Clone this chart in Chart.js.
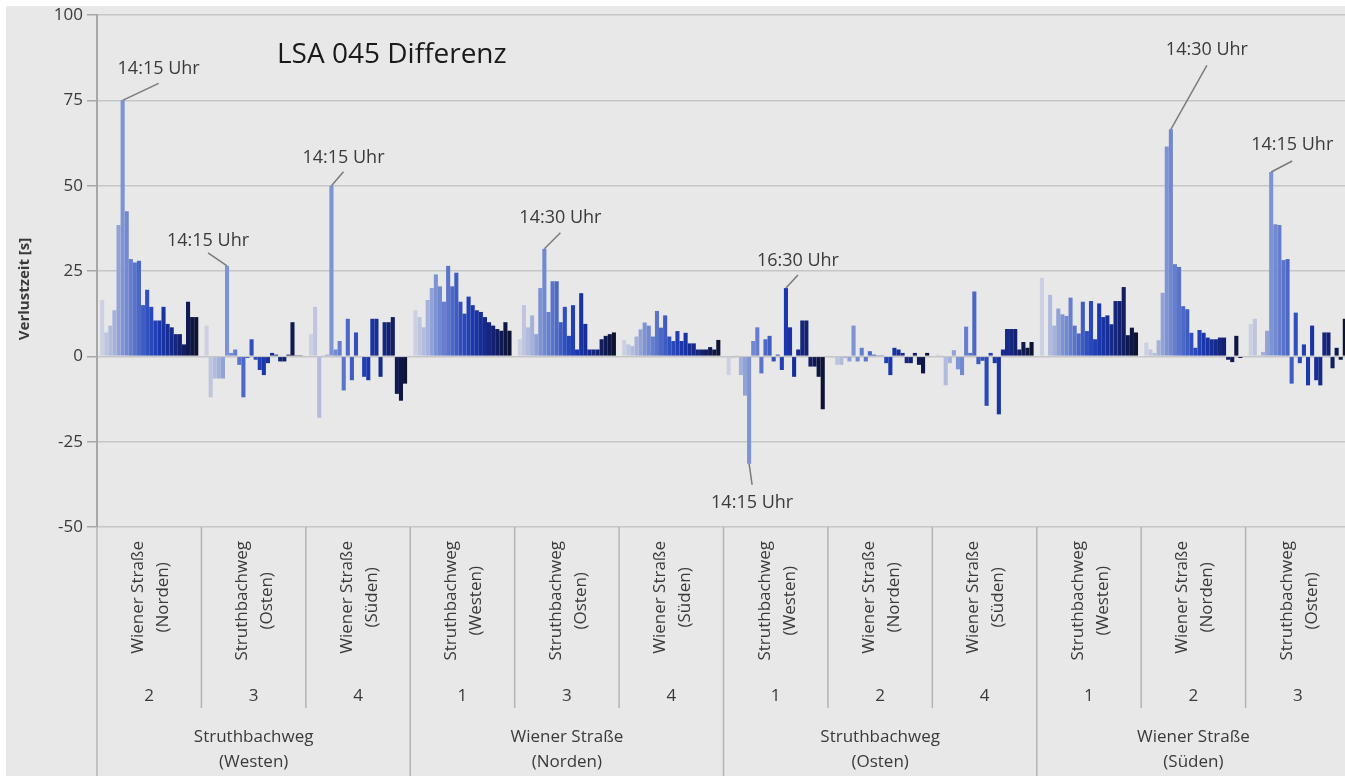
<!DOCTYPE html>
<html>
<head>
<meta charset="utf-8">
<script src="https://cdn.jsdelivr.net/npm/chart.js@4.4.1/dist/chart.umd.min.js"></script>
<style>
  html, body { margin: 0; padding: 0; background: #fff; overflow: hidden; }
  #wrap { width: 1352px; height: 776px; }
</style>
</head>
<body>
<div id="wrap"><canvas id="chart" width="1352" height="776"></canvas></div>
<script>
// one series per 15 min slot
const timeSlots = ['13:00','13:15','13:30','13:45','14:00','14:15','14:30','14:45',
                   '15:00','15:15','15:30','15:45','16:00','16:15','16:30','16:45',
                   '17:00','17:15','17:30','17:45','18:00','18:15','18:30','18:45'];

// approaches (level 1), arm numbers (level 2), intersections (level 3)
const approachLabels = [
    ['Wiener Straße', '(Norden)'], ['Struthbachweg', '(Osten)'], ['Wiener Straße', '(Süden)'],
    ['Struthbachweg', '(Westen)'], ['Struthbachweg', '(Osten)'], ['Wiener Straße', '(Süden)'],
    ['Struthbachweg', '(Westen)'], ['Wiener Straße', '(Norden)'], ['Wiener Straße', '(Süden)'],
    ['Struthbachweg', '(Westen)'], ['Wiener Straße', '(Norden)'], ['Struthbachweg', '(Osten)']
];
const armNumbers = ['2', '3', '4', '1', '3', '4', '1', '2', '4', '1', '2', '3'];
const intersections = [
    ['Struthbachweg', '(Westen)'], ['Wiener Straße', '(Norden)'],
    ['Struthbachweg', '(Osten)'], ['Wiener Straße', '(Süden)']
];

// Verlustzeit-Differenz [s] per approach, 13:00 .. 18:45
const westen2 = [16.5, 7, 9, 13.5, 38.5, 75, 42.5, 28.5, 27.5, 28, 15, 19.5, 14.5, 10.5, 10.5, 14.5, 9.5, 8.5, 6.5, 6.5, 3.5, 16, 11.5, 11.5];
const westen3 = [9, -12, -6.5, -6.5, -6.5, 26.5, 1, 2, -2.5, -12, -0.5, 5, -1, -4, -5.5, -2, 1, 0.5, -1.5, -1.5, 0.5, 10, 0.3, 0.3];
const westen4 = [6.5, 14.5, -18, 0.3, 0.5, 50, 2, 4.5, -10, 11, -7, 7, 0, -6, -7, 11, 11, -6, 10, 10, 11.5, -11, -13, -8];
const norden1 = [13.5, 11.5, 8.5, 16.5, 20, 24, 20.5, 16, 26.5, 20.5, 24.5, 16, 12.5, 17.5, 15, 13.5, 13, 11.5, 10, 9, 8, 7.5, 10, 7.5];
const norden3 = [5, 15, 8.5, 12, 6.5, 20, 31.5, 13, 22, 22, 10, 14.5, 6, 15, 2, 18.5, 9.5, 2, 2, 2, 5, 6, 6.5, 7];
const norden4 = [4.8, 3.5, 3, 5.8, 7.9, 9.9, 9, 5.8, 13.3, 8.4, 12, 5.8, 4.5, 7.4, 4.5, 6.9, 3.8, 3.8, 2, 2, 2, 2.7, 2, 4.8];
const osten1 = [-5.5, -0.5, 0.3, -5.5, -11.5, -31.5, 4.5, 8.5, -5, 5, 6, -1.5, 0.5, -4, 20, 8.5, -6, 2, 10.5, 10.5, -3, -3, -6, -15.5];
const osten2 = [-0.5, -2.5, -2.5, -0.5, -1.5, 9, -1.5, 2.5, -1.5, 1.5, 0.5, 0.3, 0.3, -2, -5.5, 2.5, 2, 1, -2, -2, 1, -2.5, -5, 1];
const osten4 = [0.5, 0.3, -8.5, -2, 1.8, -3.8, -5.5, 8.7, 1, 19, -2.3, -1.3, -14.5, 1, -2, -17, 2, 8, 8, 8, 2, 4.2, 2.5, 4.2];
const sueden1 = [23, -0.3, 18, 9, 14, 12.3, 11.8, 17.2, 9, 6.7, 16, 7.4, 16.2, 5, 15.5, 11.5, 12, 9.4, 16.2, 16.2, 20.3, 6.2, 8.4, 7];
const sueden2 = [4, 2, 1, 4.7, 18.6, 61.5, 66.5, 27, 26.2, 14.7, 13.8, 6.9, 2.5, 7.7, 6.9, 5.5, 5, 5, 5.5, 5.5, -1, -1.7, 6, -0.5];
const sueden3 = [9.5, 11, 0.3, 1.3, 7.5, 54, 38.7, 38.5, 28.2, 28.5, -8, 12.8, -2, 3.5, -8.5, 9, -7, -8.5, 7, 7, -3.5, 2.5, -1, 11];

const approachValues = [westen2, westen3, westen4, norden1, norden3, norden4,
                        osten1, osten2, osten4, sueden1, sueden2, sueden3];

// marked peaks: slot index, approach index, label
const callouts = [
    { slot: 5,  cat: 0,  text: '14:15 Uhr', dx: 36, dy: -17, ly: -14 },
    { slot: 5,  cat: 1,  text: '14:15 Uhr', dx: -19, dy: -13, ly: -12 },
    { slot: 5,  cat: 2,  text: '14:15 Uhr', dx: 12, dy: -14, ly: -14 },
    { slot: 6,  cat: 4,  text: '14:30 Uhr', dx: 16, dy: -16, ly: -15 },
    { slot: 5,  cat: 6,  text: '14:15 Uhr', dx: 3, dy: 21, ly: 18 },
    { slot: 14, cat: 6,  text: '16:30 Uhr', dx: 12, dy: -13, ly: -14 },
    { slot: 6,  cat: 10, text: '14:30 Uhr', dx: 36, dy: -64, ly: -15 },
    { slot: 5,  cat: 11, text: '14:15 Uhr', dx: 21, dy: -11, ly: -16 }
];

const FONT = '"Open Sans", "Noto Sans", sans-serif';
const TEXT_COLOR = '#3a3a3a';

// light grey-blue -> royal blue -> navy
const colorStops = [[0, '#cbd0e2'], [3, '#a4b1da'], [5, '#7d93d4'], [8, '#5a74c9'], [11, '#3050bf'],
                    [14, '#1b37ad'], [17, '#172a8c'], [20, '#121d62'], [23, '#0c1333']];

function hexToRgb(h) {
    return [1, 3, 5].map(i => parseInt(h.substr(i, 2), 16));
}

function seriesColor(i) {
    for (let k = 0; k < colorStops.length - 1; k++) {
        const [i0, c0] = colorStops[k];
        const [i1, c1] = colorStops[k + 1];
        if (i >= i0 && i <= i1) {
            const t = (i - i0) / (i1 - i0);
            const a = hexToRgb(c0), b = hexToRgb(c1);
            const rgb = a.map((v, j) => Math.round(v + (b[j] - v) * t));
            return `rgb(${rgb.join(',')})`;
        }
    }
    return colorStops[colorStops.length - 1][1];
}

const datasets = timeSlots.map((slot, t) => ({
    label: slot,
    data: approachValues.map(arr => arr[t]),
    backgroundColor: seriesColor(t),
    borderWidth: 0
}));

// background, multi-level category axis, titles and callouts
const decorPlugin = {
    id: 'decor',
    beforeDraw(chart) {
        const ctx = chart.ctx;
        ctx.save();
        ctx.fillStyle = '#fff';
        ctx.fillRect(0, 0, chart.width, chart.height);
        ctx.fillStyle = '#e8e8e8';
        ctx.fillRect(6, 6, chart.width - 6, chart.height - 6);
        ctx.restore();
    },
    afterDatasetsDraw(chart) {
        const ctx = chart.ctx;
        ctx.save();
        ctx.strokeStyle = '#7a7a7a';
        ctx.lineWidth = 1.5;
        ctx.fillStyle = TEXT_COLOR;
        ctx.font = `18px ${FONT}`;
        ctx.textAlign = 'center';
        ctx.textBaseline = 'middle';
        callouts.forEach(c => {
            const el = chart.getDatasetMeta(c.slot).data[c.cat];
            const x1 = el.x + c.dx, y1 = el.y + c.dy;
            ctx.beginPath();
            ctx.moveTo(el.x, el.y);
            ctx.lineTo(x1, y1);
            ctx.stroke();
            ctx.fillText(c.text, x1, y1 + c.ly);
        });
        ctx.restore();
    },
    afterDraw(chart) {
        const ctx = chart.ctx;
        const xs = chart.scales.x;
        const area = chart.chartArea;
        const n = approachLabels.length;
        const half = (xs.getPixelForValue(1) - xs.getPixelForValue(0)) / 2;
        ctx.save();

        // separators
        ctx.strokeStyle = '#b4b4b4';
        ctx.lineWidth = 1.5;
        for (let i = 0; i <= n; i++) {
            const px = i < n ? xs.getPixelForValue(i) - half : xs.getPixelForValue(n - 1) + half;
            const toBottom = i % 3 === 0;
            ctx.beginPath();
            ctx.moveTo(px, area.bottom);
            ctx.lineTo(px, toBottom ? chart.height : 708);
            ctx.stroke();
        }

        // level 1: rotated approach names
        ctx.fillStyle = TEXT_COLOR;
        ctx.font = `17px ${FONT}`;
        ctx.textAlign = 'center';
        ctx.textBaseline = 'middle';
        approachLabels.forEach((lines, i) => {
            const cx = xs.getPixelForValue(i);
            const w = Math.max(...lines.map(l => ctx.measureText(l).width));
            const cy = 541 + w / 2;
            lines.forEach((line, j) => {
                ctx.save();
                ctx.translate(cx - 11 + j * 25, cy);
                ctx.rotate(-Math.PI / 2);
                ctx.fillText(line, 0, 0);
                ctx.restore();
            });
        });

        // level 2: arm numbers
        armNumbers.forEach((num, i) => {
            ctx.fillText(num, xs.getPixelForValue(i), 696);
        });

        // level 3: intersections
        intersections.forEach((lines, g) => {
            const cx = xs.getPixelForValue(g * 3 + 1);
            lines.forEach((line, j) => ctx.fillText(line, cx, 737 + j * 25));
        });

        // y axis title
        ctx.save();
        ctx.font = `bold 15px ${FONT}`;
        ctx.translate(25, 289);
        ctx.rotate(-Math.PI / 2);
        ctx.fillText('Verlustzeit [s]', 0, 0);
        ctx.restore();

        // chart title inside the plot
        ctx.fillStyle = '#1a1a1a';
        ctx.font = `28px ${FONT}`;
        ctx.textAlign = 'left';
        ctx.fillText('LSA 045 Differenz', 277, 55);
        ctx.restore();
    }
};

new Chart(document.getElementById('chart'), {
    type: 'bar',
    data: {
        labels: approachLabels,
        datasets: datasets
    },
    options: {
        responsive: false,
        animation: false,
        layout: { padding: { top: 15, right: 2, left: 0, bottom: 0 } },
        datasets: { bar: { categoryPercentage: 0.94, barPercentage: 1.0 } },
        plugins: {
            legend: { display: false },
            tooltip: { enabled: false }
        },
        scales: {
            x: {
                offset: true,
                grid: { display: false },
                border: { display: false },
                ticks: { display: false },
                afterFit: scale => { scale.height = 249; }
            },
            y: {
                min: -50,
                max: 100,
                ticks: {
                    stepSize: 25,
                    padding: 4,
                    color: TEXT_COLOR,
                    font: { family: FONT, size: 17 }
                },
                grid: { color: '#c6c6c6', lineWidth: 1.5, tickLength: 10, tickColor: '#a8a8a8' },
                border: { color: '#a6a6a6', width: 2 },
                afterFit: scale => { scale.width = 97; }
            }
        }
    },
    plugins: [decorPlugin]
});
</script>
</body>
</html>
